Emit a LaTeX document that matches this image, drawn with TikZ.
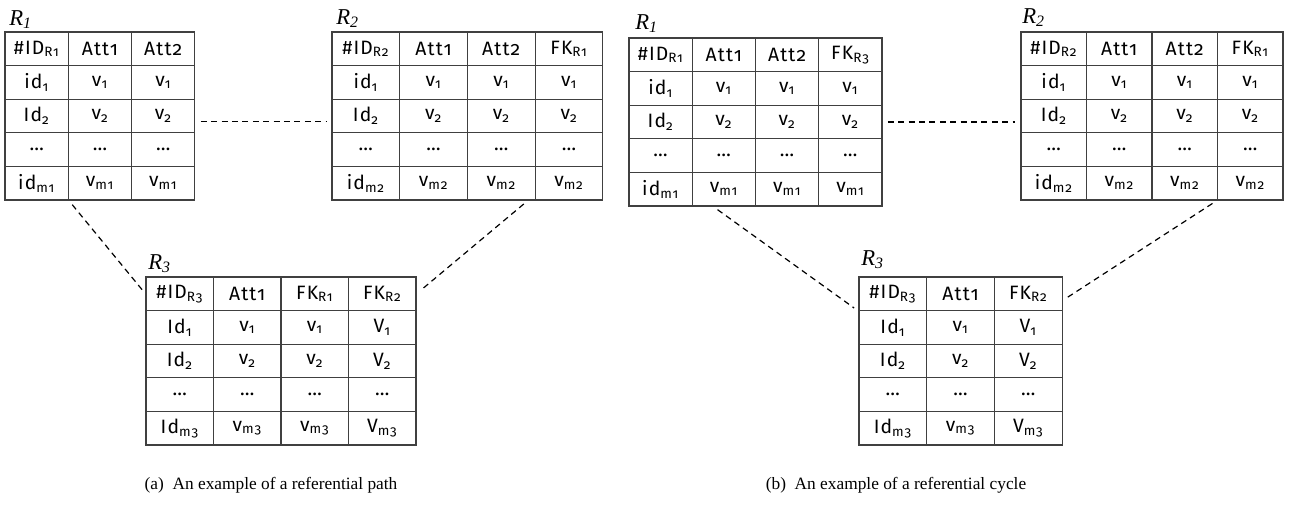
\documentclass[tikz,border=0pt]{standalone}
\usepackage{fontspec}
\setmainfont{Liberation Serif}
\newfontfamily\cellfont[Numbers=OldStyle, LetterSpace=6]{Fira Sans}

\begin{document}
\begin{tikzpicture}[x=0.75pt, y=-0.75pt,
    cell/.style={draw=black!75, line width=0.8pt, minimum height=25.2pt, inner sep=0pt,
                 font=\cellfont\fontsize{14.5}{16}\selectfont},
    rel/.style={anchor=base west, inner sep=0pt, font=\itshape\fontsize{17}{19}\selectfont},
    link/.style={dash pattern=on 4.5pt off 3.3pt, line width=0.9pt, shorten <=4pt, shorten >=4pt},
    capt/.style={font=\fontsize{13}{15}\selectfont}]
    \useasboundingbox (0,0) rectangle (1293,504);

    % (a) referential path
    \foreach \r/\cells in {
      0/{\#ID\textsubscript{R1},Att1,Att2},
      1/{id\textsubscript{1},v\textsubscript{1},v\textsubscript{1}},
      2/{Id\textsubscript{2},v\textsubscript{2},v\textsubscript{2}},
      3/{\dots,\dots,\dots},
      4/{id\textsubscript{m1},v\textsubscript{m1},v\textsubscript{m1}}}
      \foreach \c [count=\k] in \cells
        \node[cell, minimum width={63.3*0.75pt}] (a1-\r-\k) at ({5+63.3*(\k-0.5)}, {32+33.6*(\r+0.5)}) {\c};
    \foreach \r/\cells in {
      0/{\#ID\textsubscript{R2},Att1,Att2,FK\textsubscript{R1}},
      1/{id\textsubscript{1},v\textsubscript{1},v\textsubscript{1},v\textsubscript{1}},
      2/{Id\textsubscript{2},v\textsubscript{2},v\textsubscript{2},v\textsubscript{2}},
      3/{\dots,\dots,\dots,\dots},
      4/{id\textsubscript{m2},v\textsubscript{m2},v\textsubscript{m2},v\textsubscript{m2}}}
      \foreach \c [count=\k] in \cells
        \node[cell, minimum width={67.7*0.75pt}] (a2-\r-\k) at ({332+67.7*(\k-0.5)}, {32+33.6*(\r+0.5)}) {\c};
    \foreach \r/\cells in {
      0/{\#ID\textsubscript{R3},Att1,FK\textsubscript{R1},FK\textsubscript{R2}},
      1/{Id\textsubscript{1},v\textsubscript{1},v\textsubscript{1},V\textsubscript{1}},
      2/{Id\textsubscript{2},v\textsubscript{2},v\textsubscript{2},V\textsubscript{2}},
      3/{\dots,\dots,\dots,\dots},
      4/{Id\textsubscript{m3},v\textsubscript{m3},v\textsubscript{m3},V\textsubscript{m3}}}
      \foreach \c [count=\k] in \cells
        \node[cell, minimum width={67.5*0.75pt}] (a3-\r-\k) at ({146+67.5*(\k-0.5)}, {277+33.6*(\r+0.5)}) {\c};

    \node[rel] (a1-name) at (9,25) {R\textsubscript{1}};
    \node[rel] (a2-name) at (336,24) {R\textsubscript{2}};
    \node[rel] (a3-name) at (148,269) {R\textsubscript{3}};

    \draw[link] ([yshift=-4pt]a1-2-3.east) -- ([yshift=-4pt]a2-2-1.west);
    \draw[link] (a1-4-1.south east) -- (a3-0-1.west);
    \draw[link] ([xshift=-5pt]a2-4-4.south west) -- (a3-0-4.east);

    % (b) referential cycle
    \foreach \r/\cells in {
      0/{\#ID\textsubscript{R1},Att1,Att2,FK\textsubscript{R3}},
      1/{id\textsubscript{1},v\textsubscript{1},v\textsubscript{1},v\textsubscript{1}},
      2/{Id\textsubscript{2},v\textsubscript{2},v\textsubscript{2},v\textsubscript{2}},
      3/{\dots,\dots,\dots,\dots},
      4/{id\textsubscript{m1},v\textsubscript{m1},v\textsubscript{m1},v\textsubscript{m1}}}
      \foreach \c [count=\k] in \cells
        \node[cell, minimum width={63.25*0.75pt}] (b1-\r-\k) at ({629+63.25*(\k-0.5)}, {38+33.6*(\r+0.5)}) {\c};
    \foreach \r/\cells in {
      0/{\#ID\textsubscript{R2},Att1,Att2,FK\textsubscript{R1}},
      1/{id\textsubscript{1},v\textsubscript{1},v\textsubscript{1},v\textsubscript{1}},
      2/{Id\textsubscript{2},v\textsubscript{2},v\textsubscript{2},v\textsubscript{2}},
      3/{\dots,\dots,\dots,\dots},
      4/{id\textsubscript{m2},v\textsubscript{m2},v\textsubscript{m2},v\textsubscript{m2}}}
      \foreach \c [count=\k] in \cells
        \node[cell, minimum width={65.5*0.75pt}] (b2-\r-\k) at ({1021+65.5*(\k-0.5)}, {32+33.6*(\r+0.5)}) {\c};
    \foreach \r/\cells in {
      0/{\#ID\textsubscript{R3},Att1,FK\textsubscript{R2}},
      1/{Id\textsubscript{1},v\textsubscript{1},V\textsubscript{1}},
      2/{Id\textsubscript{2},v\textsubscript{2},V\textsubscript{2}},
      3/{\dots,\dots,\dots},
      4/{Id\textsubscript{m3},v\textsubscript{m3},V\textsubscript{m3}}}
      \foreach \c [count=\k] in \cells
        \node[cell, minimum width={67.7*0.75pt}] (b3-\r-\k) at ({859+67.7*(\k-0.5)}, {277+33.6*(\r+0.5)}) {\c};

    \node[rel] (b1-name) at (635,29) {R\textsubscript{1}};
    \node[rel] (b2-name) at (1022,23) {R\textsubscript{2}};
    \node[rel] (b3-name) at (861,265) {R\textsubscript{3}};

    \draw[link] (b1-2-4.east) -- (b1-2-4.east -| b2-2-1.west);
    \draw[link] ([xshift=-8pt]b1-4-2.south) -- (b3-0-1.south west);
    \draw[link] (b2-4-4.south west) -- ([yshift=-5pt]b3-0-3.east);

    % captions
    \node[capt] (cap-a) at (271,485) {(a)\enspace An example of a referential path};
    \node[capt] (cap-b) at (896,485) {(b)\enspace An example of a referential cycle};
\end{tikzpicture}
\end{document}
